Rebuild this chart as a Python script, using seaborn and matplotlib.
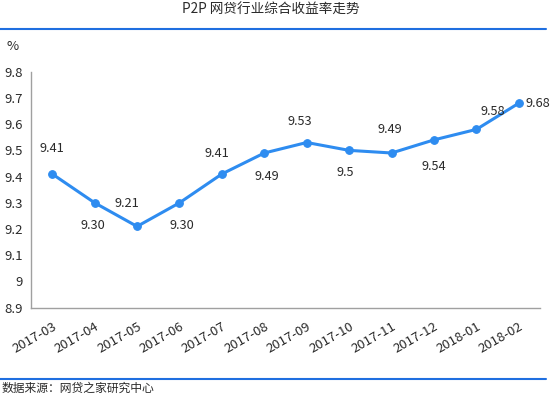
import numpy as np
import pandas as pd
import matplotlib
matplotlib.use('Agg')
import matplotlib.pyplot as plt
import seaborn as sns

# data
months = ['2017-03', '2017-04', '2017-05', '2017-06', '2017-07', '2017-08',
          '2017-09', '2017-10', '2017-11', '2017-12', '2018-01', '2018-02']
rates = [9.41, 9.30, 9.21, 9.30, 9.41, 9.49, 9.53, 9.50, 9.49, 9.54, 9.58, 9.68]
rate_labels = ['9.41', '9.30', '9.21', '9.30', '9.41', '9.49',
               '9.53', '9.5', '9.49', '9.54', '9.58', '9.68']
yticks = [8.9, 9.0, 9.1, 9.2, 9.3, 9.4, 9.5, 9.6, 9.7, 9.8]
ytick_labels = ['8.9', '9', '9.1', '9.2', '9.3', '9.4', '9.5', '9.6', '9.7', '9.8']

sns.set_style('white')
plt.rcParams['font.family'] = ['Noto Sans CJK SC', 'DejaVu Sans']

line_col = '#2e8cf0'
rule_col = '#1f6fe0'
text_col = '#2a2a2a'

df = pd.DataFrame({'month': months, 'rate': rates})
df['pos'] = np.arange(len(df))

fig = plt.figure(figsize=(5.5, 3.97), dpi=100)
ax = fig.add_axes([0.0564, 0.2249, 0.9255, 0.5945])

sns.lineplot(data=df, x='pos', y='rate', ax=ax, color=line_col, linewidth=2.2,
             marker='o', markersize=5.5, markeredgewidth=0.8, markeredgecolor=line_col)

# label offsets (points)
offsets = [(0, 18), (-1, -16.5), (-7, 16.5), (2, -16), (-3.5, 15), (1.5, -17),
           (-5, 15), (-3, -16), (-1, 17), (0, -19), (12, 13)]
for i, off in enumerate(offsets):
    ax.annotate(rate_labels[i], (i, rates[i]), xytext=off, textcoords='offset points',
                ha='center', va='center', fontsize=9.2, color=text_col)
ax.annotate(rate_labels[-1], (len(rates) - 1, rates[-1]), xytext=(4.5, 0),
            textcoords='offset points', ha='left', va='center',
            fontsize=9.2, color=text_col)

ax.set_xlim(-0.5, len(months) - 0.5)
ax.set_ylim(8.9, 9.8)
ax.set_yticks(yticks)
ax.set_yticklabels(ytick_labels, fontsize=9.5, color=text_col)
ax.set_xticks(df['pos'])
ax.set_xticklabels(months, rotation=30, ha='right', rotation_mode='anchor',
                   fontsize=9.5, color=text_col)
ax.set_xticks(np.arange(-0.5, len(months)), minor=True)
ax.tick_params(axis='x', which='major', length=0, pad=9)
ax.tick_params(axis='x', which='minor', length=4, color='#a0a0a0', direction='out')
ax.tick_params(axis='y', length=4, color='#a0a0a0', direction='out', pad=2)
ax.set_xlabel('')
ax.set_ylabel('')
for s in ['top', 'right']:
    ax.spines[s].set_visible(False)
for s in ['left', 'bottom']:
    ax.spines[s].set_color('#a0a0a0')
    ax.spines[s].set_linewidth(1)

fig.text(0.493, 0.975, 'P2P 网贷行业综合收益率走势', ha='center', va='center',
         fontsize=9.8, color=text_col)
fig.add_artist(plt.Line2D([0, 0.993], [0.9257, 0.9257], color=rule_col, linewidth=1.5))
fig.text(0.022, 0.882, '%', ha='center', va='center', fontsize=9.5, color=text_col)
fig.add_artist(plt.Line2D([0, 0.993], [0.0446, 0.0446], color=rule_col, linewidth=1.5))
fig.text(0.003, 0.021, '数据来源：网贷之家研究中心', ha='left', va='center',
         fontsize=8.5, color=text_col)

fig.savefig('out.png', dpi=100)
